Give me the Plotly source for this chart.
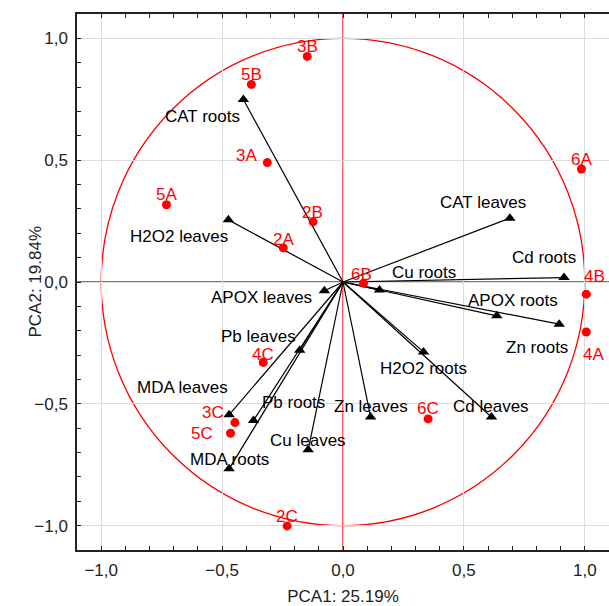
import plotly.graph_objects as go

# Observations (cases)
obs_names = ["3B", "5B", "3A", "5A", "2B", "2A", "6B", "6A", "4B", "4A", "4C", "3C", "5C", "2C", "6C"]
obs_x = [-0.148, -0.379, -0.313, -0.730, -0.124, -0.247, 0.085, 0.986, 1.006, 1.006, -0.330, -0.447, -0.465, -0.231, 0.352]
obs_y = [0.926, 0.811, 0.490, 0.317, 0.247, 0.140, -0.005, 0.464, -0.050, -0.205, -0.330, -0.577, -0.621, -1.001, -0.562]
# label offsets in px (dx right, dy up)
obs_dx = [0, 0, -21, 0, -1, 0, -2, 0, 8, 7, 0, -22, -29, 0, 0]
obs_dy = [10, 10, 7, 10, 9, 8, 9, 9, 18, -23, 8, 10, 0, 9, 10]

# Variables (loadings)
var_names = ["CAT roots", "H2O2 leaves", "CAT leaves", "Cd roots", "Cu roots", "APOX roots", "Zn roots",
             "APOX leaves", "H2O2 roots", "Pb leaves", "MDA leaves", "Pb roots", "MDA roots", "Cu leaves",
             "Zn leaves", "Cd leaves"]
var_x = [-0.412, -0.474, 0.690, 0.914, 0.151, 0.636, 0.894, -0.077, 0.333, -0.179, -0.471, -0.370, -0.471, -0.144, 0.114, 0.614]
var_y = [0.749, 0.255, 0.262, 0.018, -0.033, -0.139, -0.173, -0.036, -0.287, -0.280, -0.545, -0.568, -0.767, -0.689, -0.554, -0.554]
var_dx = [-41, -49, -27, -20, 44, 16, -22, -63, 0, -41, -47, 40, 0, 0, 0, 0]
var_dy = [-17, -17, 16, 20, 18, 15, -23, -7, -17, 14, 27, 18, 9, 9, 10, 10]

x_title = "PCA1: 25.19%"
y_title = "PCA2: 19.84%"

FONT = "Liberation Sans, Arial, sans-serif"
RED = "#ff0000"

fig = go.Figure()

# vectors from origin
lx, ly = [], []
for x, y in zip(var_x, var_y):
    lx += [0, x, None]
    ly += [0, y, None]
fig.add_trace(go.Scatter(x=lx, y=ly, mode="lines", line=dict(color="black", width=1.2),
                         hoverinfo="skip", showlegend=False))
fig.add_trace(go.Scatter(x=var_x, y=var_y, mode="markers",
                         marker=dict(symbol="triangle-up", size=10, color="black"),
                         text=var_names, showlegend=False))
fig.add_trace(go.Scatter(x=obs_x, y=obs_y, mode="markers",
                         marker=dict(symbol="circle", size=9, color=RED),
                         text=obs_names, showlegend=False))

for n, x, y, dx, dy in zip(var_names, var_x, var_y, var_dx, var_dy):
    fig.add_annotation(x=x, y=y, text=n, showarrow=False, xshift=dx, yshift=dy,
                       font=dict(family=FONT, size=17, color="black"))
for n, x, y, dx, dy in zip(obs_names, obs_x, obs_y, obs_dx, obs_dy):
    fig.add_annotation(x=x, y=y, text=n, showarrow=False, xshift=dx, yshift=dy,
                       font=dict(family=FONT, size=17, color=RED))

# y-axis title as rotated annotation
fig.add_annotation(xref="paper", yref="paper", x=0, y=0.5, xshift=-54, text=y_title,
                   textangle=-90, showarrow=False, font=dict(family=FONT, size=17, color="#222222"))

# unit circle and red axes
fig.add_shape(type="circle", xref="x", yref="y", x0=-1, y0=-1, x1=1, y1=1,
              line=dict(color=RED, width=1.3), layer="below")
fig.add_shape(type="line", xref="x", yref="y", x0=0, x1=0, y0=-1.1, y1=1.1,
              line=dict(color=RED, width=1.3), layer="below")
fig.add_shape(type="line", xref="x", yref="y", x0=-1.1, x1=1.1, y0=0, y1=0,
              line=dict(color=RED, width=1.3), layer="below")

axis_common = dict(
    dtick=0.5, tick0=0, showgrid=True, gridcolor="#dcdcdc", gridwidth=1,
    zeroline=False, showline=True, linecolor="#222222", linewidth=1.5,
    ticks="inside", ticklen=4, tickcolor="#222222", tickwidth=1,
    tickformat=".1f", tickfont=dict(family=FONT, size=17, color="#222222"),
    ticklabelstandoff=4,
    minor=dict(dtick=0.1, tick0=0, ticks="inside", ticklen=4, tickcolor="#222222", showgrid=False),
)

fig.update_layout(
    width=609, height=606,
    margin=dict(l=77, r=0, t=14, b=56),
    paper_bgcolor="white", plot_bgcolor="white",
    separators=", ",
    font=dict(family=FONT, size=17, color="#222222"),
    xaxis=dict(range=[-1.1, 1.1], mirror="allticks",
               title=dict(text=x_title, standoff=12, font=dict(family=FONT, size=17)),
               **axis_common),
    yaxis=dict(range=[-1.1, 1.1], mirror=False, **axis_common),
)

fig.write_html("out.html")
